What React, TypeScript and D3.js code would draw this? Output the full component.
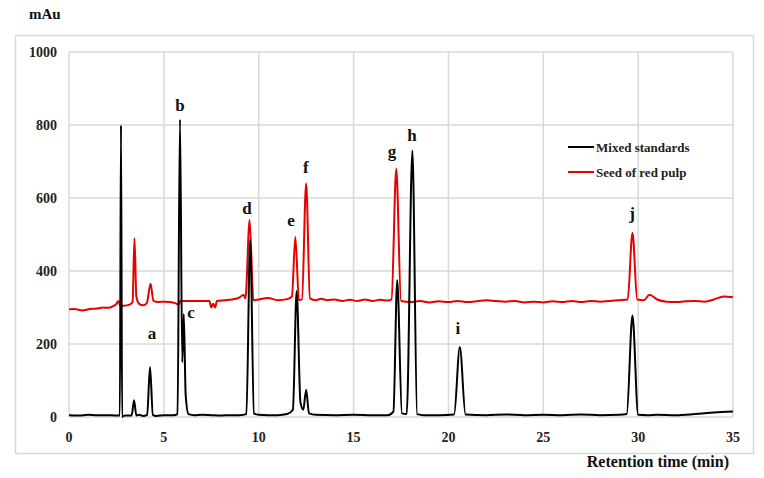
import React from "react";
import * as d3 from "d3";

// Retention time (min) and absorbance (mAu)
const mixedTime = [0, 0.5, 1, 1.5, 2, 2.5, 2.68, 2.74, 2.8, 2.86, 3.0, 3.3, 3.43, 3.55, 3.7, 3.9, 4.12, 4.27, 4.42, 4.6, 5.0, 5.5, 5.72, 5.85, 5.97, 6.05, 6.15, 6.3, 6.6, 7.0, 7.5, 8.0, 8.5, 9.0, 9.35, 9.55, 9.75, 10.0, 10.5, 11.0, 11.5, 11.8, 12.0, 12.2, 12.35, 12.5, 12.65, 13.0, 14.0, 15.0, 16.0, 16.8, 17.1, 17.3, 17.55, 17.8, 18.1, 18.35, 18.7, 19.5, 20.3, 20.6, 20.9, 22.0, 23.0, 24.0, 25.0, 26.0, 27.0, 28.0, 29.0, 29.4, 29.7, 30.0, 30.5, 31.0, 32.0, 33.0, 34.0, 35.0];
const mixedValue = [5, 4, 6, 5, 5, 4, 4, 800, 0, 3, 4, 4, 46, 4, 6, 3, 6, 137, 6, 3, 5, 5, 8, 815, 150, 282, 60, 8, 5, 6, 5, 4, 5, 5, 8, 485, 10, 6, 5, 5, 8, 20, 345, 40, 20, 75, 10, 6, 5, 6, 5, 5, 15, 375, 10, 8, 730, 8, 5, 5, 7, 192, 7, 5, 7, 5, 6, 5, 7, 5, 6, 8, 278, 6, 5, 6, 5, 8, 12, 15];

const seedTime = [0, 0.3, 0.7, 1.1, 1.5, 1.8, 2.1, 2.3, 2.5, 2.6, 2.7, 2.9, 3.2, 3.35, 3.45, 3.55, 3.7, 3.9, 4.1, 4.3, 4.45, 4.7, 5.0, 5.3, 5.6, 5.8, 5.85, 6.5, 7.0, 7.4, 7.5, 7.6, 7.7, 7.8, 8.2, 8.6, 9.0, 9.2, 9.3, 9.52, 9.72, 10.0, 10.5, 11.0, 11.5, 11.75, 11.93, 12.12, 12.28, 12.5, 12.7, 13.0, 13.3, 13.6, 14.0, 14.4, 14.8, 15.2, 15.6, 16.0, 16.4, 16.8, 17.0, 17.25, 17.5, 18.0, 18.5, 19.0, 19.5, 20.0, 20.5, 21.0, 21.5, 22.0, 22.5, 23.0, 23.5, 24.0, 24.5, 25.0, 25.5, 26.0, 26.5, 27.0, 27.5, 28.0, 28.5, 29.0, 29.45, 29.7, 29.95, 30.3, 30.6, 31.0, 31.5, 32.0, 32.5, 33.0, 33.5, 34.0, 34.5, 35.0];
const seedValue = [295, 296, 292, 296, 297, 300, 299, 303, 310, 318, 305, 305, 308, 315, 490, 330, 310, 306, 312, 365, 318, 315, 316, 315, 312, 308, 318, 318, 318, 318, 300, 310, 300, 318, 320, 322, 328, 335, 325, 540, 320, 322, 326, 320, 323, 330, 493, 320, 322, 640, 325, 320, 324, 320, 322, 318, 321, 318, 322, 318, 321, 319, 322, 680, 318, 315, 318, 314, 317, 315, 318, 315, 317, 320, 318, 316, 318, 314, 316, 314, 317, 315, 318, 315, 318, 316, 318, 320, 322, 505, 322, 320, 335, 322, 316, 315, 317, 318, 316, 322, 330, 328];

const peakLetters = ["a", "b", "c", "d", "e", "f", "g", "h", "i", "j"];
const peakLabelTime = [4.375, 5.85, 6.43, 9.38, 11.7, 12.49, 17.03, 18.08, 20.5, 29.68];
const peakLabelValue = [214, 838, 271, 556, 523, 668, 712, 756, 227, 542];

const xTicks = [0, 5, 10, 15, 20, 25, 30, 35];
const yTicks = [0, 200, 400, 600, 800, 1000];

const seriesNames = ["Mixed standards", "Seed of red pulp"];
const seriesColors = ["#000000", "#e60000"];

const W = 764;
const H = 478;
const plot = { left: 69, right: 733, top: 52, bottom: 417 };
const FONT = "'Liberation Serif', 'Times New Roman', serif";

export default function App() {
  const x = d3.scaleLinear().domain([0, 35]).range([plot.left, plot.right]);
  const y = d3.scaleLinear().domain([0, 1000]).range([plot.bottom, plot.top]);

  const line = d3
    .line<[number, number]>()
    .x((d) => x(d[0]))
    .y((d) => y(d[1]))
    .curve(d3.curveMonotoneX);

  const mixed: [number, number][] = mixedTime.map((t, i) => [t, mixedValue[i]]);
  const seed: [number, number][] = seedTime.map((t, i) => [t, seedValue[i]]);

  const grid = "#d9d9d9";

  return (
    <svg
      width={W}
      height={H}
      style={{ position: "absolute", left: 0, top: 0, background: "#fff" }}
      fontFamily={FONT}
    >
      <rect x={0} y={0} width={W} height={H} fill="#fff" />
      <rect x={15.5} y={35.5} width={738} height={418} fill="none" stroke={grid} strokeWidth={1.5} />

      {yTicks.map((v) => (
        <line key={"gy" + v} x1={plot.left} x2={plot.right} y1={y(v)} y2={y(v)} stroke={grid} strokeWidth={1.5} />
      ))}
      {xTicks.map((v) => (
        <line key={"gx" + v} x1={x(v)} x2={x(v)} y1={plot.top} y2={plot.bottom} stroke={grid} strokeWidth={1.5} />
      ))}

      {yTicks.map((v) => (
        <text key={"ty" + v} x={57} y={y(v) + 5} textAnchor="end" fontSize={14} fontWeight="bold" fill="#222">
          {v}
        </text>
      ))}
      {xTicks.map((v) => (
        <text key={"tx" + v} x={x(v)} y={442} textAnchor="middle" fontSize={14} fontWeight="bold" fill="#222">
          {v}
        </text>
      ))}

      <path d={line(seed) || ""} fill="none" stroke={seriesColors[1]} strokeWidth={2} strokeLinejoin="round" />
      <path d={line(mixed) || ""} fill="none" stroke={seriesColors[0]} strokeWidth={2} strokeLinejoin="round" />

      {peakLetters.map((l, i) => (
        <text
          key={"pl" + l}
          x={x(peakLabelTime[i])}
          y={y(peakLabelValue[i])}
          textAnchor="middle"
          fontSize={17}
          fontWeight="bold"
          fill="#111"
        >
          {l}
        </text>
      ))}

      {seriesNames.map((n, i) => (
        <g key={"lg" + i} transform={`translate(568, ${147 + i * 25})`}>
          <line x1={0} x2={26} y1={0} y2={0} stroke={seriesColors[i]} strokeWidth={2} />
          <text x={28} y={4.5} fontSize={13} fontWeight="bold" fill="#222">
            {n}
          </text>
        </g>
      ))}

      <text x={29} y={19} fontSize={15} fontWeight="bold" fill="#111">
        mAu
      </text>
      <text x={729} y={467} textAnchor="end" fontSize={16} fontWeight="bold" fill="#111">
        Retention time (min)
      </text>
    </svg>
  );
}
